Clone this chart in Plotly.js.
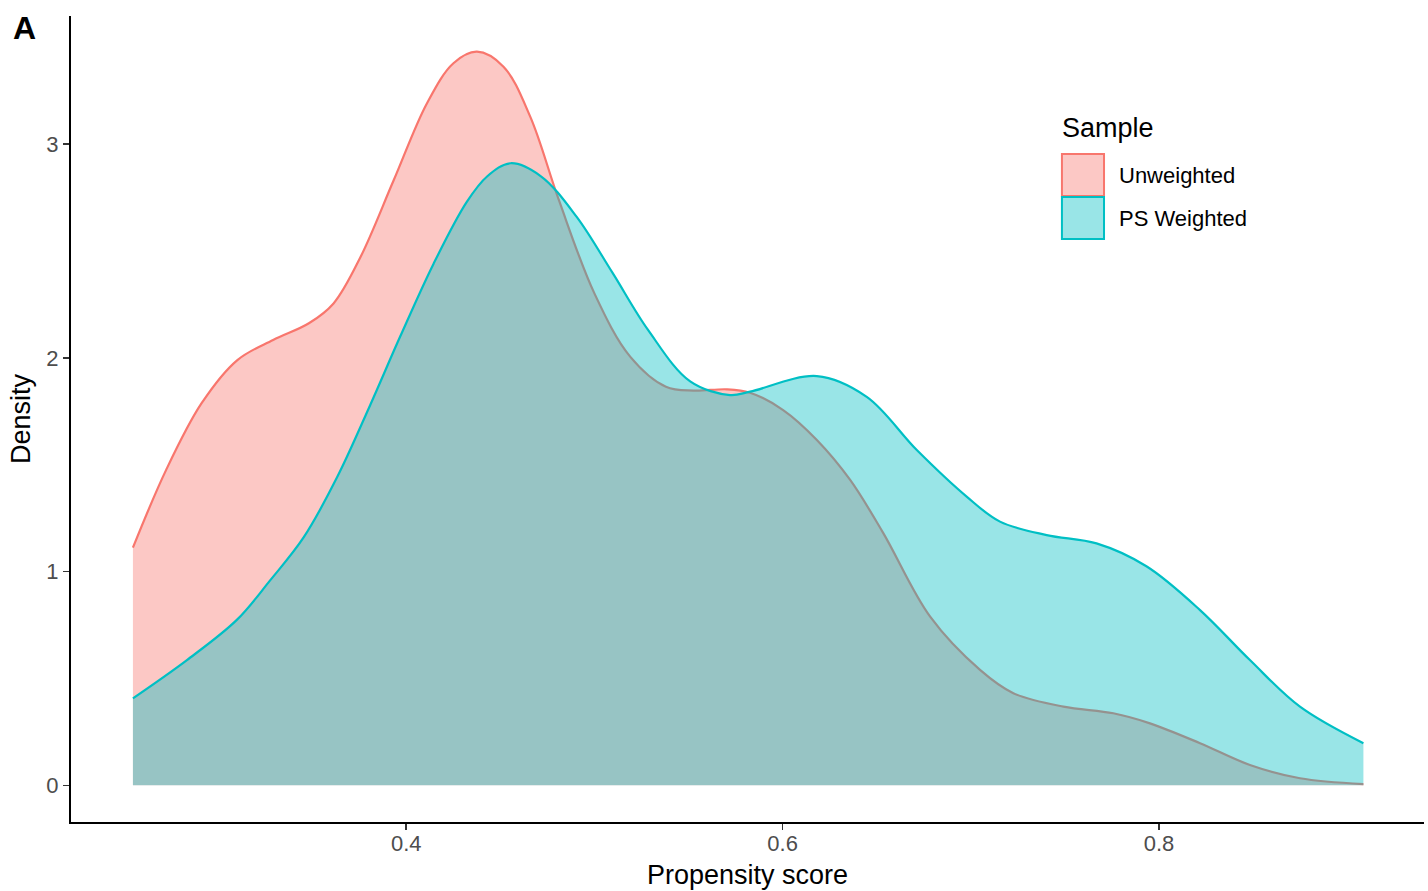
<!DOCTYPE html>
<html>
<head>
<meta charset="utf-8">
<script src="https://cdn.plot.ly/plotly-3.0.1.min.js"></script>
<style>
html, body { margin: 0; padding: 0; background: #ffffff; }
#chart { width: 1428px; height: 891px; }
</style>
</head>
<body>
<div id="chart"></div>
<script>
// ---- Data ----
const seriesNames = ['Unweighted', 'PS Weighted'];
const seriesColors = ['#F8766D', '#00BFC4'];
const seriesFills = ['rgba(248,118,109,0.4)', 'rgba(0,191,196,0.4)'];

const unweightedX = [0.2548, 0.2724, 0.2913, 0.3103, 0.3293, 0.3483, 0.3614, 0.3756, 0.3933,
  0.4110, 0.4251, 0.4376, 0.4517, 0.4659, 0.4811, 0.5000, 0.5190, 0.5380,
  0.5527, 0.5704, 0.5827, 0.6003, 0.6182, 0.6359, 0.6535, 0.6784, 0.7049, 0.7226,
  0.7492, 0.7757, 0.7952, 0.8218, 0.8483, 0.8749, 0.9086];
const unweightedY = [1.112, 1.475, 1.788, 1.990, 2.084, 2.162, 2.255, 2.470, 2.830,
  3.191, 3.379, 3.433, 3.363, 3.129, 2.739, 2.302, 2.006, 1.865,
  1.847, 1.853, 1.837, 1.756, 1.616, 1.429, 1.180, 0.789, 0.540, 0.431,
  0.368, 0.337, 0.290, 0.197, 0.095, 0.033, 0.006];

const weightedX = [0.2548, 0.2835, 0.3100, 0.3278, 0.3455, 0.3632, 0.3809, 0.3968, 0.4145, 0.4322,
  0.4431, 0.4555, 0.4716, 0.4905, 0.5095, 0.5285, 0.5509, 0.5721, 0.5827, 0.6182, 0.6447,
  0.6713, 0.6978, 0.7155, 0.7403, 0.7668, 0.7933, 0.8218, 0.8483, 0.8749, 0.9086];
const weightedY = [0.407, 0.586, 0.774, 0.960, 1.160, 1.440, 1.780, 2.100, 2.440, 2.730,
  2.850, 2.911, 2.850, 2.661, 2.400, 2.131, 1.890, 1.826, 1.842, 1.915, 1.818,
  1.569, 1.351, 1.234, 1.171, 1.132, 1.025, 0.820, 0.586, 0.368, 0.197];

const xTickVals = [0.4, 0.6, 0.8];
const xTickText = ['0.4', '0.6', '0.8'];
const yTickVals = [0, 1, 2, 3];
const yTickText = ['0', '1', '2', '3'];

const xTitle = 'Propensity score';
const yTitle = 'Density';
const legendTitle = 'Sample';
const panelTag = 'A';

// ---- Traces ----
const xs = [unweightedX, weightedX];
const ys = [unweightedY, weightedY];
const traces = xs.map((x, i) => ({
  type: 'scatter',
  mode: 'lines',
  name: seriesNames[i],
  x: x,
  y: ys[i],
  fill: 'tozeroy',
  fillcolor: seriesFills[i],
  line: { color: seriesColors[i], width: 2.2, shape: 'spline', smoothing: 1 },
  hoverinfo: 'skip'
}));

const FONT = 'Liberation Sans, Arial, Helvetica, sans-serif';

// Custom legend (ggplot-style square keys)
const legendBoxes = [
  { y0: 0.7767, y1: 0.8288 },
  { y0: 0.7233, y1: 0.7754 }
];
const shapes = legendBoxes.map((b, i) => ({
  type: 'rect', xref: 'paper', yref: 'paper',
  x0: 0.7324, x1: 0.7635, y0: b.y0, y1: b.y1,
  fillcolor: seriesFills[i],
  line: { color: seriesColors[i], width: 2 }
}));

const annotations = [
  { text: legendTitle, xref: 'paper', yref: 'paper', x: 0.7310, y: 0.861,
    xanchor: 'left', yanchor: 'middle', showarrow: false,
    font: { family: FONT, size: 27, color: '#000000' } },
  { text: seriesNames[0], xref: 'paper', yref: 'paper', x: 0.7730, y: 0.8025,
    xanchor: 'left', yanchor: 'middle', showarrow: false,
    font: { family: FONT, size: 22, color: '#000000' } },
  { text: seriesNames[1], xref: 'paper', yref: 'paper', x: 0.7730, y: 0.7491,
    xanchor: 'left', yanchor: 'middle', showarrow: false,
    font: { family: FONT, size: 22, color: '#000000' } },
  { text: '<b>' + panelTag + '</b>', xref: 'paper', yref: 'paper', x: -0.0445, y: 0.985,
    xanchor: 'left', yanchor: 'middle', showarrow: false,
    font: { family: FONT, size: 32, color: '#000000' } }
];

const layout = {
  width: 1428,
  height: 891,
  margin: { l: 71, r: 4, t: 16, b: 69 },
  paper_bgcolor: '#ffffff',
  plot_bgcolor: '#ffffff',
  font: { family: FONT, color: '#000000' },
  showlegend: false,
  xaxis: {
    range: [0.2219, 0.9408],
    tickmode: 'array', tickvals: xTickVals, ticktext: xTickText,
    showgrid: false, zeroline: false,
    showline: true, linecolor: '#000000', linewidth: 2,
    ticks: 'outside', ticklen: 6, tickwidth: 1.5, tickcolor: '#333333',
    ticklabelstandoff: -5,
    tickfont: { family: FONT, size: 22, color: '#4D4D4D' },
    title: { text: xTitle, font: { family: FONT, size: 27, color: '#000000' }, standoff: 10 }
  },
  yaxis: {
    range: [-0.1717, 3.6],
    tickmode: 'array', tickvals: yTickVals, ticktext: yTickText,
    showgrid: false, zeroline: false,
    showline: true, linecolor: '#000000', linewidth: 2,
    ticks: 'outside', ticklen: 6, tickwidth: 1.5, tickcolor: '#333333',
    tickfont: { family: FONT, size: 22, color: '#4D4D4D' },
    title: { text: yTitle, font: { family: FONT, size: 27, color: '#000000' }, standoff: 8 }
  },
  shapes: shapes,
  annotations: annotations
};

Plotly.newPlot('chart', traces, layout, { displayModeBar: false, staticPlot: true });
</script>
</body>
</html>
